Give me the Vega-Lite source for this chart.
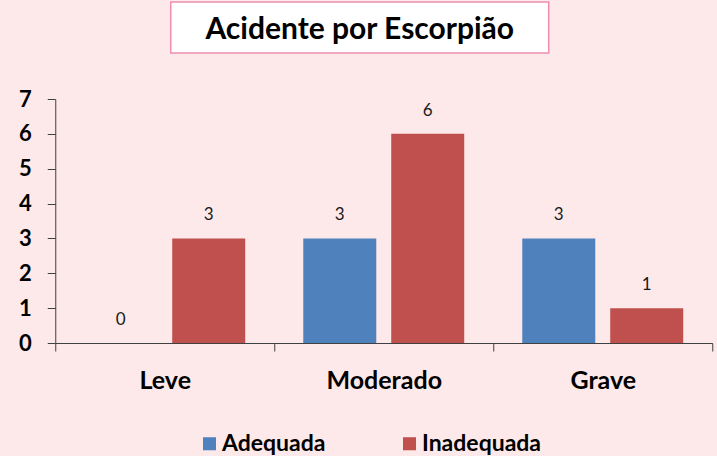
{
  "$schema": "https://vega.github.io/schema/vega-lite/v6.json",
  "background": "#fde9e9",
  "padding": {"top": 1, "left": 18, "right": 4, "bottom": 0},
  "spacing": 34,
  "center": true,
  "config": {
    "font": "Lato",
    "view": {"stroke": null},
    "axis": {"domainColor": "#404040", "tickColor": "#404040", "labelColor": "#000000", "labelFontWeight": "bold", "grid": false}
  },
  "datasets": {
    "main": [
      {"categoria": "Leve", "tipo": "Adequada", "valor": 0},
      {"categoria": "Leve", "tipo": "Inadequada", "valor": 3},
      {"categoria": "Moderado", "tipo": "Adequada", "valor": 3},
      {"categoria": "Moderado", "tipo": "Inadequada", "valor": 6},
      {"categoria": "Grave", "tipo": "Adequada", "valor": 3},
      {"categoria": "Grave", "tipo": "Inadequada", "valor": 1}
    ],
    "titulo": [{"t": "Acidente por Escorpião"}]
  },
  "vconcat": [
    {
      "width": 378,
      "height": 51,
      "view": {"fill": "#ffffff", "stroke": "#ee8fb0", "strokeWidth": 1.5},
      "data": {"name": "titulo"},
      "mark": {"type": "text", "fontSize": 30, "fontWeight": "bold", "color": "#000000", "baseline": "middle", "align": "center", "dy": 2},
      "encoding": {
        "text": {"field": "t", "type": "nominal"},
        "y": {
          "datum": 0, "type": "quantitative",
          "scale": {"domain": [-1, 1]},
          "axis": {"orient": "right", "title": null, "domain": false, "ticks": false, "grid": false, "values": [0], "labelOpacity": 0, "labelPadding": 42}
        }
      }
    },
    {
      "width": 657,
      "height": 244,
      "data": {"name": "main"},
      "encoding": {
        "x": {
          "field": "categoria", "type": "nominal", "sort": ["Leve", "Moderado", "Grave"],
          "scale": {"paddingInner": 0, "paddingOuter": 0},
          "axis": {"title": null, "labelAngle": 0, "labelFontSize": 25, "labelPadding": 17, "tickSize": 8, "tickBand": "extent", "domainWidth": 1}
        },
        "xOffset": {
          "field": "tipo", "type": "nominal",
          "scale": {"paddingInner": 0.17, "paddingOuter": 0.33}
        },
        "y": {
          "field": "valor", "type": "quantitative",
          "scale": {"domain": [0, 7], "nice": false},
          "axis": {"title": null, "values": [0, 1, 2, 3, 4, 5, 6, 7], "labelOverlap": false, "labelFlush": false, "labelFontSize": 22, "labelPadding": 16, "tickSize": 8, "domainWidth": 1}
        }
      },
      "layer": [
        {
          "mark": {"type": "bar"},
          "encoding": {
            "color": {
              "field": "tipo", "type": "nominal",
              "scale": {"domain": ["Adequada", "Inadequada"], "range": ["#4f81bd", "#c0504d"]},
              "legend": {
                "title": null, "orient": "none", "direction": "horizontal",
                "legendX": 143, "legendY": 430,
                "symbolType": "square", "symbolSize": 170, "symbolStrokeWidth": 0,
                "labelFontSize": 23, "labelFontWeight": "bold", "labelColor": "#000000",
                "columnPadding": 72, "labelOffset": 1
              }
            }
          }
        },
        {
          "mark": {"type": "text", "fontSize": 17, "color": "#1a1a1a", "baseline": "alphabetic", "dy": -18},
          "encoding": {"text": {"field": "valor", "type": "quantitative"}}
        }
      ]
    }
  ]
}
